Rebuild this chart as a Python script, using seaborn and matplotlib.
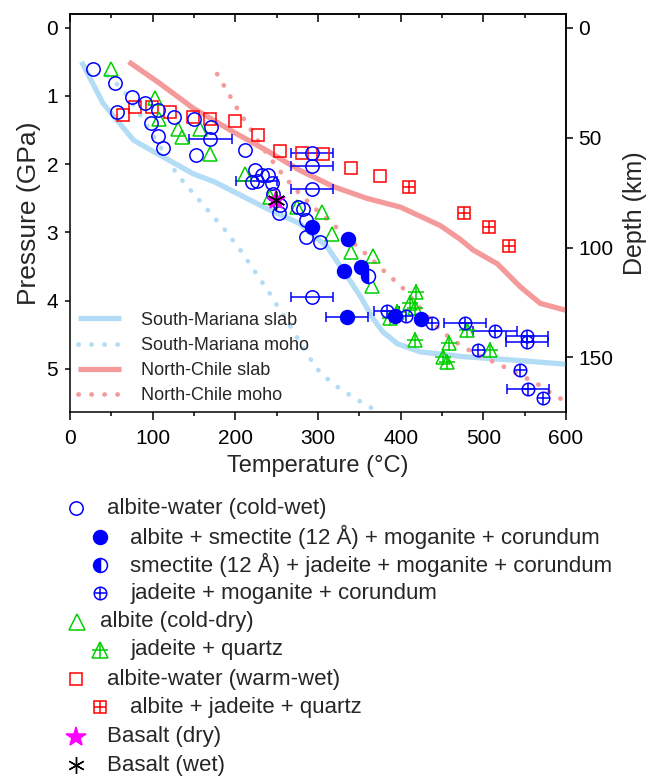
import numpy as np
import pandas as pd
import matplotlib
matplotlib.use("Agg")
import matplotlib.pyplot as plt
import seaborn as sns
from matplotlib.lines import Line2D
from matplotlib.ticker import MultipleLocator

# ---------------- data ----------------
sm_slab_T = [14, 40, 77, 109, 149, 175, 238, 278, 311, 333, 352, 366, 378, 396, 424, 476, 537, 600]
sm_slab_P = [0.50, 1.11, 1.65, 1.87, 2.14, 2.26, 2.65, 2.87, 3.21, 3.60, 3.95, 4.25, 4.45, 4.63, 4.75, 4.82, 4.87, 4.93]

sm_moho_T = [45, 56, 65, 85, 117, 129, 153, 170, 186, 208, 228, 242, 254, 268, 285, 299, 317, 337, 357, 369]
sm_moho_P = [0.70, 0.82, 0.92, 1.28, 1.90, 2.14, 2.48, 2.72, 2.94, 3.29, 3.65, 3.90, 4.14, 4.40, 4.75, 5.00, 5.21, 5.37, 5.52, 5.60]

nc_slab_T = [71, 109, 149, 198, 238, 278, 319, 359, 400, 448, 472, 488, 517, 545, 569, 600]
nc_slab_P = [0.50, 0.82, 1.18, 1.53, 1.80, 2.09, 2.33, 2.50, 2.63, 2.90, 3.10, 3.26, 3.46, 3.80, 4.04, 4.14]

nc_moho_T = [178, 192, 204, 217, 230, 244, 259, 276, 292, 317, 335, 353, 371, 387, 398, 410, 427, 444, 460, 476, 494, 519, 541, 563, 583, 597]
nc_moho_P = [0.68, 0.97, 1.22, 1.46, 1.71, 1.94, 2.18, 2.41, 2.60, 2.87, 3.07, 3.26, 3.46, 3.65, 3.75, 3.92, 4.15, 4.38, 4.55, 4.68, 4.80, 4.93, 5.07, 5.20, 5.36, 5.46]

# albite-water (cold-wet), open circles
cw_T = [28, 54.5, 56.5, 75, 91, 107, 98, 126, 106, 113, 150.5, 170.5, 152.5, 212,
        224, 232, 240, 220, 244, 246, 254, 253, 276, 282, 285, 286, 303]
cw_P = [0.60, 0.81, 1.24, 1.02, 1.11, 1.20, 1.39, 1.31, 1.59, 1.77, 1.34, 1.45, 1.87, 1.79,
        2.09, 2.16, 2.16, 2.26, 2.28, 2.43, 2.60, 2.71, 2.63, 2.66, 2.82, 3.07, 3.14]
cw_err_T = [169.5, 292.6, 292.6, 292.6, 226, 292.6]
cw_err_P = [1.63, 1.83, 2.02, 2.36, 2.24, 3.94]
cw_err_dT = [26, 25, 25, 25, 25, 25]

# albite + smectite (12 A) + moganite + corundum, filled circles
asm_T = [292.6, 335.7, 332, 352, 392.6, 425]
asm_P = [2.92, 3.10, 3.56, 3.51, 4.23, 4.27]
asm_err_T = [335]
asm_err_P = [4.24]
asm_err_dT = [25]

# smectite + jadeite + moganite + corundum, half-filled circle
sjm_T = [360]
sjm_P = [3.64]

# jadeite + moganite + corundum, circle-plus
jmc_T = [407, 438, 494, 544, 572]
jmc_P = [4.22, 4.32, 4.72, 5.02, 5.42]
jmc_err_T = [383, 478, 514, 553, 553, 554]
jmc_err_P = [4.15, 4.33, 4.44, 4.52, 4.61, 5.30]
jmc_err_dT = [15, 25, 27, 25, 25, 25]

# albite (cold-dry), open triangles
cd_T = [49.4, 103, 108, 131, 136, 157, 169.5, 212, 242, 274.5, 304.7, 316.8, 340, 366, 365]
cd_P = [0.60, 1.03, 1.34, 1.48, 1.60, 1.48, 1.85, 2.14, 2.48, 2.63, 2.70, 3.02, 3.29, 3.35, 3.78]

# jadeite + quartz, triangle-plus
jq_T = [419, 411.6, 417.7, 395.5, 387, 417.7, 458, 480, 508.5, 450.7, 456]
jq_P = [3.87, 4.04, 4.11, 4.16, 4.26, 4.57, 4.62, 4.43, 4.72, 4.83, 4.90]

# albite-water (warm-wet), open squares
ww_T = [64.5, 78.7, 99, 121, 149, 169.5, 200, 228, 254, 280.5, 306, 340, 375]
ww_P = [1.28, 1.16, 1.16, 1.24, 1.31, 1.34, 1.37, 1.57, 1.80, 1.83, 1.85, 2.06, 2.18]

# albite + jadeite + quartz, square-plus
ajq_T = [410, 477, 507, 531]
ajq_P = [2.34, 2.72, 2.92, 3.20]

# basalt
bd_T = [249.4]
bd_P = [2.52]
bw_T = [249.4]
bw_P = [2.52]

KM_PER_GPA = 31.05

# ---------------- style ----------------
sns.set_theme(style="ticks")
plt.rcParams["font.family"] = ["Liberation Sans", "DejaVu Sans"]
plt.rcParams["axes.edgecolor"] = "black"
plt.rcParams["axes.linewidth"] = 1.1
plt.rcParams["xtick.color"] = "black"
plt.rcParams["ytick.color"] = "black"

BLUE = "#0000ff"
GREEN = "#00d000"
RED = "#ff0000"
MAG = "#ff00ff"
LBLUE = "#b3dcf6"
SALMON = "#f59a9a"

fig = plt.figure(figsize=(6.49, 7.76), dpi=100)
W, H = 649, 776
ax = fig.add_axes([70 / W, 1 - 412 / H, 496 / W, 398 / H])

dot = (0, (0.05, 2.7))
sns.lineplot(x=sm_slab_T, y=sm_slab_P, ax=ax, sort=False, estimator=None,
             color=LBLUE, lw=3.8, solid_capstyle="butt", zorder=1)
sns.lineplot(x=sm_moho_T, y=sm_moho_P, ax=ax, sort=False, estimator=None,
             color=LBLUE, lw=3.4, linestyle=dot, dash_capstyle="round", zorder=1)
sns.lineplot(x=nc_slab_T, y=nc_slab_P, ax=ax, sort=False, estimator=None,
             color=SALMON, lw=3.8, solid_capstyle="butt", zorder=1)
sns.lineplot(x=nc_moho_T, y=nc_moho_P, ax=ax, sort=False, estimator=None,
             color=SALMON, lw=3.4, linestyle=dot, dash_capstyle="round", zorder=1)

MEW = 1.1
def pts(T, P, marker, color, ms, mfc="none", z=3, mew=MEW, **kw):
    ax.plot(T, P, ls="none", marker=marker, ms=ms, mfc=mfc, mec=color, mew=mew, zorder=z, **kw)

def errs(T, P, dT, color):
    ax.errorbar(T, P, xerr=dT, fmt="none", ecolor=color, elinewidth=1.1,
                capsize=3.5, capthick=1.1, zorder=2.5)

# squares
pts(ww_T, ww_P, "s", RED, 8.8)
pts(ajq_T, ajq_P, "s", RED, 8.0)
pts(ajq_T, ajq_P, "+", RED, 8.0)
# triangles
pts(cd_T, cd_P, "^", GREEN, 10)
pts(jq_T, jq_P, "^", GREEN, 10)
pts(jq_T, jq_P, "+", GREEN, 11)
# circles
errs(cw_err_T, cw_err_P, cw_err_dT, BLUE)
errs(asm_err_T, asm_err_P, asm_err_dT, BLUE)
errs(jmc_err_T, jmc_err_P, jmc_err_dT, BLUE)
pts(cw_T + cw_err_T, cw_P + cw_err_P, "o", BLUE, 9.6)
pts(asm_T + asm_err_T, asm_P + asm_err_P, "o", BLUE, 10, mfc=BLUE)
pts(sjm_T, sjm_P, "o", BLUE, 10, mfc=BLUE, fillstyle="left", markerfacecoloralt="white")
pts(jmc_T + jmc_err_T, jmc_P + jmc_err_P, "o", BLUE, 9.0)
pts(jmc_T + jmc_err_T, jmc_P + jmc_err_P, "+", BLUE, 9.0)
# basalt
pts(bd_T, bd_P, "*", MAG, 14, mfc=MAG, z=4)
pts(bw_T, bw_P, (6, 2, 0), "black", 13, z=5, mew=1.0)

ax.set_xlim(0, 600)
ax.set_ylim(5.63, -0.2)
ax.xaxis.set_major_locator(MultipleLocator(100))
ax.xaxis.set_minor_locator(MultipleLocator(50))
ax.set_yticks([0, 1, 2, 3, 4, 5])
ax.tick_params(axis="x", which="major", direction="out", length=6, width=1.1, labelsize=15, pad=6)
ax.tick_params(axis="x", which="minor", direction="out", length=3, width=1.1)
ax.tick_params(axis="y", which="major", direction="out", length=3.5, width=1.1, labelsize=15, pad=5)
ax.set_xlabel("Temperature (°C)", fontsize=17, labelpad=5)
ax.set_ylabel("Pressure (GPa)", fontsize=19, labelpad=4)

top = ax.secondary_xaxis("top")
top.xaxis.set_major_locator(MultipleLocator(100))
top.xaxis.set_minor_locator(MultipleLocator(50))
top.tick_params(axis="x", which="major", direction="in", length=6, width=1.1, labeltop=False)
top.tick_params(axis="x", which="minor", direction="in", length=3, width=1.1)

right = ax.secondary_yaxis("right", functions=(lambda p: p * KM_PER_GPA, lambda d: d / KM_PER_GPA))
right.set_yticks([0, 50, 100, 150])
right.tick_params(axis="y", direction="out", length=5, width=1.1, labelsize=15, pad=4)
right.set_ylabel("Depth (km)", fontsize=18, labelpad=7)

# inner legend for the four model curves
lines = ax.get_lines()[:4]
ax.legend(lines, ["South-Mariana slab", "South-Mariana moho", "North-Chile slab", "North-Chile moho"],
          loc="upper left", bbox_to_anchor=(0.016, 0.252), frameon=False, fontsize=13,
          handlelength=2.4, handletextpad=1.1, labelspacing=0.45, borderpad=0, borderaxespad=0)

# lower legend (symbol key)
rows = [
    (76, 508.3, 106.7, "albite-water (cold-wet)", "o"),
    (100, 536.7, 130, "albite + smectite (12 Å) + moganite + corundum", "of"),
    (100, 565.0, 130, "smectite (12 Å) + jadeite + moganite + corundum", "oh"),
    (100, 593.3, 130, "jadeite + moganite + corundum", "o+"),
    (76.7, 621.7, 100, "albite (cold-dry)", "^"),
    (100, 650.0, 130, "jadeite + quartz", "^+"),
    (76, 679.0, 106.7, "albite-water (warm-wet)", "s"),
    (100, 707.3, 130, "albite + jadeite + quartz", "s+"),
    (76, 736.7, 106.7, "Basalt (dry)", "*"),
    (76, 765.0, 106.7, "Basalt (wet)", "x6"),
]
def glyph(x, y, marker, color, ms, mfc="none", mew=MEW, **kw):
    fig.add_artist(Line2D([x / W], [1 - y / H], transform=fig.transFigure, ls="none",
                          marker=marker, ms=ms, mfc=mfc, mec=color, mew=mew, **kw))
for x, y, tx, label, kind in rows:
    if kind == "o":
        glyph(x, y, "o", BLUE, 9.6)
    elif kind == "of":
        glyph(x, y, "o", BLUE, 10, mfc=BLUE)
    elif kind == "oh":
        glyph(x, y, "o", BLUE, 10, mfc=BLUE, fillstyle="left", markerfacecoloralt="white")
    elif kind == "o+":
        glyph(x, y, "o", BLUE, 9.0)
        glyph(x, y, "+", BLUE, 9.0)
    elif kind == "^":
        glyph(x, y, "^", GREEN, 11)
    elif kind == "^+":
        glyph(x, y, "^", GREEN, 11)
        glyph(x, y, "+", GREEN, 12)
    elif kind == "s":
        glyph(x, y, "s", RED, 8.8)
    elif kind == "s+":
        glyph(x, y, "s", RED, 8.0)
        glyph(x, y, "+", RED, 8.0)
    elif kind == "*":
        glyph(x, y, "*", MAG, 15, mfc=MAG)
    elif kind == "x6":
        glyph(x, y, (6, 2, 0), "black", 12, mew=1.0)
    fig.text(tx / W, 1 - y / H, label, ha="left", va="center", fontsize=16)

fig.savefig("out.png", dpi=100)
